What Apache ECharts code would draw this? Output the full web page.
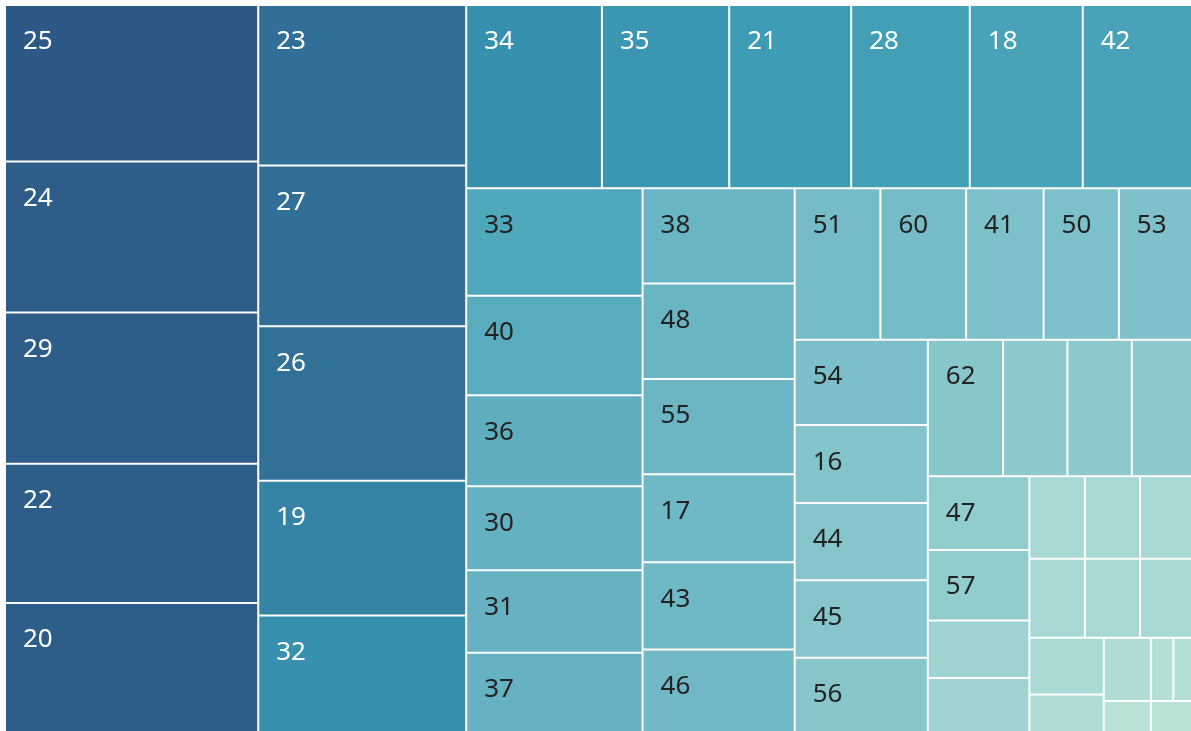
<!DOCTYPE html>
<html>
<head>
<meta charset="utf-8">
<script src="https://cdn.jsdelivr.net/npm/echarts@6/dist/echarts.min.js"></script>
<style>
  html, body { margin: 0; padding: 0; background: #fff; }
  #chart { width: 1191px; height: 731px; }
</style>
</head>
<body>
<div id="chart"></div>
<script>
// cell names, in the order Tableau lays them out
const names = [
  '25', '24', '29', '22', '20', '23', '27', '26', '19', '32',
  '34', '35', '21', '28', '18', '42', '33', '40', '36', '30',
  '31', '37', '38', '48', '55', '17', '43', '46', '51', '60',
  '41', '50', '53', '54', '16', '44', '45', '56', '62', '39',
  '49', '52', '47', '57', '58', '59', '61', '63', '64', '65',
  '66', '67', '68', '69', '70', '71', '72', '15', '73'
]

// size measure (drives the area)
const sizes = [
  39390, 38040, 38030, 35098, 33210, 33200, 33190, 31986, 27820, 24720,
  24710, 23178, 22210, 21590, 20568, 20258, 18856, 17467, 15954, 14705,
  14450, 14440, 14430, 14425, 14420, 13296, 13204, 12915, 12910, 12905,
  11672, 11330, 11320, 11310, 10295, 10250, 10240, 10230, 10220, 8750,
  8745, 8457, 7425, 7121, 5815, 5754, 4551, 4527, 4420, 4352,
  4329, 4226, 4205, 2987, 2980, 1400, 1300, 1600, 1450
]

// colour measure (0 = lightest, 100 = darkest)
const shades = [
  100, 97, 97, 96, 96, 84, 84, 83, 70, 62,
  62, 58, 54, 52, 49, 49, 46, 42, 40, 38,
  37, 37, 35, 35, 34, 33, 33, 32, 30, 30,
  27, 27, 26, 28, 24, 23, 23, 22, 22, 19,
  19, 19, 17, 17, 12, 11, 8, 8, 8, 8,
  8, 8, 7, 5, 5, 3, 3, 1, 1
]

// cells that Tableau left without a label
const hiddenLabels = [
  '39', '49', '52', '58', '59', '61', '63', '64', '65', '66',
  '67', '68', '69', '70', '71', '72', '15', '73'
]

// Tableau Blue-Teal, light -> dark
const palette = [
  '#bce4d8', '#aedcd5', '#a1d5d2', '#95cecf', '#89c8cc', '#7ec1ca', '#72bac6',
  '#66b2c2', '#59acbe', '#4ba5ba', '#419eb6', '#3b96b2', '#358ead', '#3586a7',
  '#347ea1', '#32779b', '#316f96', '#2f6790', '#2d608a', '#2c5985'
]

const chart = echarts.init(document.getElementById('chart'))

const data = names.map((name, i) => ({
  name: name,
  value: [sizes[i], shades[i]],
  label: {
    show: !hiddenLabels.includes(name),
    color: shades[i] >= 48 ? '#ffffff' : '#222222'
  }
}))

chart.setOption({
  animation: false,
  series: [
    {
      type: 'treemap',
      left: 6,
      top: 6,
      width: 1187,
      height: 728,
      roam: false,
      nodeClick: false,
      breadcrumb: { show: false },
      // keep the given order, it is already largest first
      sort: false,
      visualDimension: 1,
      colorMappingBy: 'value',
      visualMin: 0,
      visualMax: 100,
      label: {
        show: true,
        formatter: '{b}',
        position: [12, 18],
        fontFamily: 'Noto Sans',
        fontSize: 26,
        lineHeight: 26,
        overflow: 'none'
      },
      itemStyle: {
        borderWidth: 0
      },
      levels: [
        {
          color: palette,
          colorMappingBy: 'value',
          visualDimension: 1,
          visualMin: 0,
          visualMax: 100,
          itemStyle: {
            borderColor: '#ffffff',
            borderWidth: 0,
            gapWidth: 2
          }
        }
      ],
      emphasis: { disabled: true },
      data: data
    }
  ]
})
</script>
</body>
</html>
